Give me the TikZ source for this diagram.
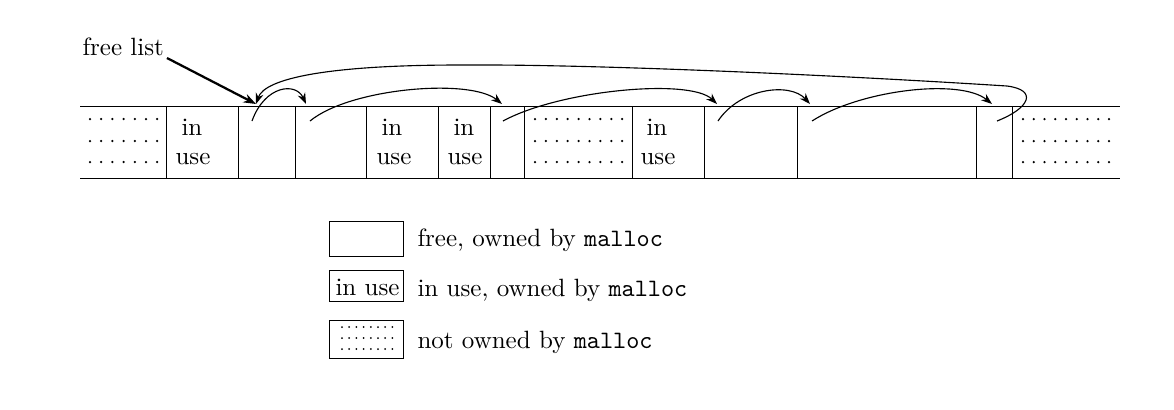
\documentclass[tikz,border=0pt]{standalone}
\usetikzlibrary{arrows.meta}

\tikzset{
  link/.style={-{Stealth[length=4.4pt,width=3.2pt]}, line width=0.45pt},
  headlink/.style={-{Stealth[length=5pt,width=3.6pt]}, line width=0.9pt},
  celltext/.style={inner sep=0pt, anchor=base west},
}

\begin{document}
\begin{tikzpicture}[x=0.4pt,y=-0.4pt]
\useasboundingbox (0,0) rectangle (1174,409);

% memory
\draw (80,106) -- (1120,106);
\draw (80,178) -- (1120,178);
\draw (166,106) -- (166,178);
\draw (238,106) -- (238,178);
\draw (295,106) -- (295,178);
\draw (366,106) -- (366,178);
\draw (438,106) -- (438,178);
\draw (490,106) -- (490,178);
\draw (524,106) -- (524,178);
\draw (632,106) -- (632,178);
\draw (704,106) -- (704,178);
\draw (797,106) -- (797,178);
\draw (976,106) -- (976,178);
\draw (1012,106) -- (1012,178);

% not owned by malloc
\foreach \y in {119,141,162} {
  \foreach \i in {0,...,6} \fill (90+11.2*\i,\y) circle (0.5pt);
  \foreach \i in {0,...,8} \fill (535+10.9*\i,\y) circle (0.5pt);
  \foreach \i in {0,...,8} \fill (1023+10.75*\i,\y) circle (0.5pt);
}

% in use
\node[celltext] (in2) at (181,135) {in};
\node[celltext] (use2) at (175,164) {use};
\node[celltext] (in5) at (381,135) {in};
\node[celltext] (use5) at (376,164) {use};
\node[celltext] (in6) at (453,135) {in};
\node[celltext] (use6) at (447,164) {use};
\node[celltext] (in9) at (646,135) {in};
\node[celltext] (use9) at (640,164) {use};

% free blocks
\coordinate (s3) at (252,121);
\coordinate (t3) at (256,104);
\coordinate (s4) at (310,121);
\coordinate (t4) at (306,104);
\coordinate (s7) at (503,121);
\coordinate (t7) at (502,104);
\coordinate (s10) at (718,121);
\coordinate (t10) at (717,104);
\coordinate (s11) at (812,121);
\coordinate (t11) at (810,104);
\coordinate (s12) at (997,121);
\coordinate (t12) at (992,104);

\node[celltext] (fl) at (82,55) {free list};
\coordinate (fltail) at (167,58);
\draw[headlink] (fltail) -- (t3);

\draw[link] (s3) .. controls (265,85) and (296,82) .. (t4);
\draw[link] (s4) .. controls (350,88) and (470,78) .. (t7);
\draw[link] (s7) .. controls (560,90) and (690,78) .. (t10);
\draw[link] (s10) .. controls (740,88) and (790,82) .. (t11);
\draw[link] (s11) .. controls (860,90) and (960,78) .. (t12);
\draw[link] (s12) .. controls (1030,108) and (1038,90) .. (1007,86)
  .. controls (850,76) and (600,64) .. (460,65)
  .. controls (330,65) and (265,78) .. (t3);

% legend
\draw (329,221) rectangle (403,256);
\node[celltext] (lfree) at (417,246) {free, owned by \texttt{malloc}};

\draw (329,270) rectangle (403,301);
\node[celltext] (kuse) at (335,295) {in use};
\node[celltext] (luse) at (417,296) {in use, owned by \texttt{malloc}};

\draw (329,320) rectangle (403,358);
\foreach \y in {327,338,349}
  \foreach \i in {0,...,7} \fill (342+7.2*\i,\y) circle (0.4pt);
\node[celltext] (lnot) at (417,348) {not owned by \texttt{malloc}};

\end{tikzpicture}
\end{document}
